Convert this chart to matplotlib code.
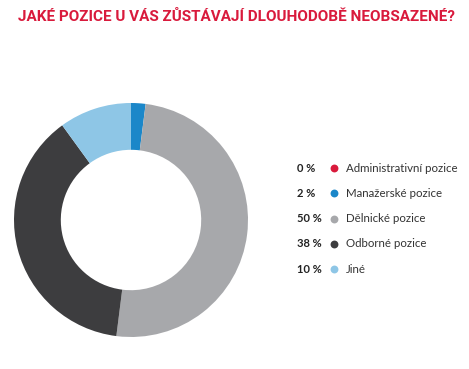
import matplotlib
matplotlib.use("Agg")
import matplotlib.pyplot as plt

# data
categories = ["Administrativní pozice", "Manažerské pozice", "Dělnické pozice",
              "Odborné pozice", "Jiné"]
shares = [0, 2, 50, 38, 10]
colors = ["#D91A3C", "#1B87C9", "#A7A8AB", "#3D3D3F", "#8EC6E6"]
TITLE = "JAKÉ POZICE U VÁS ZŮSTÁVAJÍ DLOUHODOBĚ NEOBSAZENÉ?"

W, H = 469, 369
fig = plt.figure(figsize=(W / 100, H / 100), dpi=100, facecolor="white")

# donut, placed in pixel terms
cx, cy, r = 131, 220, 117
ax = fig.add_axes([(cx - r) / W, (H - cy - r) / H, 2 * r / W, 2 * r / H])
ax.pie(shares, colors=colors, startangle=90, counterclock=False,
       radius=1.0, wedgeprops=dict(width=0.40, linewidth=0))
ax.set_aspect("equal")
ax.set_xlim(-1, 1)
ax.set_ylim(-1, 1)
ax.axis("off")

# overlay for title + legend in pixel coords
ov = fig.add_axes([0, 0, 1, 1])
ov.set_xlim(0, W)
ov.set_ylim(H, 0)
ov.axis("off")
ov.patch.set_alpha(0)

ov.text(236, 17, TITLE, color="#D91A3C", fontsize=11.0, fontweight="bold",
        family=["Roboto", "DejaVu Sans"], ha="center", va="center")

y0, dy = 168, 25.3
for i, (cat, val, col) in enumerate(zip(categories, shares, colors)):
    y = y0 + i * dy
    ov.text(297, y, f"{val} %", fontsize=8, fontweight="bold",
            color="#222222", family="Lato", ha="left", va="center")
    ov.scatter([334], [y], s=32, color=col, linewidths=0)
    ov.text(346, y, cat, fontsize=8.3, color="#333333", family="Lato",
            ha="left", va="center")

fig.savefig("out.png", dpi=100, facecolor="white")
